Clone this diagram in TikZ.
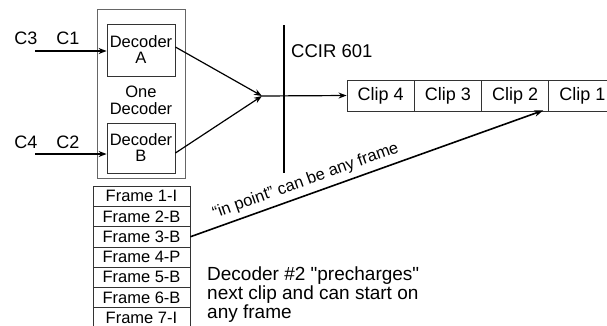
\documentclass[tikz,border=0pt]{standalone}
\usepackage{fontspec}
\setmainfont{Liberation Sans}
\newfontfamily\qfont{Liberation Sans}[Ligatures=ResetAll]
\newcommand{\sq}{{\qfont\symbol{34}}}
\usetikzlibrary{arrows.meta,calc}
\tikzset{
  box/.style={draw=black!80, line width=0.8pt, rectangle, inner sep=0pt, font=\fontsize{16.5}{17}\selectfont},
  outerbox/.style={draw=black!60, line width=0.8pt, rectangle, inner sep=0pt},
  framebox/.style={box, minimum width=97pt, minimum height=20.3pt},
  clipbox/.style={draw=black!80, line width=0.8pt, rectangle, inner sep=0pt, minimum width=67.3pt, minimum height=31pt, font=\fontsize{18}{18}\selectfont},
  lbl/.style={inner sep=0pt, font=\fontsize{18}{18}\selectfont},
  arr/.style={line width=1.2pt, -{Stealth[length=8pt,width=6pt]}},
  ln/.style={line width=1.2pt}
}
\begin{document}
\begin{tikzpicture}[x=1pt,y=-1pt]
\path[use as bounding box, clip] (0,0) rectangle (607,325);
% decoder group
\node[outerbox, minimum width=88pt, minimum height=169pt] (outer) at (141,93.5) {};
\node[box, minimum width=68pt, minimum height=52pt, align=center] (decA) at (141,50) {Decoder\\[-1pt]A};
\node[box, minimum width=68pt, minimum height=50pt, align=center] (decB) at (141,148) {Decoder\\[-1pt]B};
\node[inner sep=0pt, align=center, font=\fontsize{16.5}{17}\selectfont] (one) at (141,100) {One\\Decoder};
% inputs
\node[lbl] (c3) at (26,38) {C3};
\node[lbl] (c1) at (68,38) {C1};
\node[lbl] (c4) at (26,142) {C4};
\node[lbl] (c2) at (68,142) {C2};
\coordinate (inA) at (35,51);
\coordinate (inB) at (35,154);
\draw[arr] (inA) -- (inA -| decA.west);
\draw[arr] (inB) -- (inB -| decB.west);
% merge
\coordinate (m) at (262,96);
\draw[arr] ([yshift=3pt]decA.east) -- (m);
\draw[arr] ([yshift=-5pt]decB.east) -- (m);
% vertical line
\coordinate (vt) at (284,25);
\coordinate (vb) at (284,173);
\draw[ln] (vt) -- (vb);
\node[anchor=west, inner sep=0pt, font=\fontsize{18.5}{19}\selectfont] (ccir) at (291,51) {CCIR 601};
% clips
\node[clipbox] (clip4) at (380.6,95.5) {Clip 4};
\node[clipbox] (clip3) at (447.9,95.5) {Clip 3};
\node[clipbox] (clip2) at (515.2,95.5) {Clip 2};
\node[clipbox] (clip1) at (582.5,95.5) {Clip 1};
\draw[arr] (m) -- (clip4.west);
% frames
\node[framebox] (f1) at (141.5,196.15) {Frame 1-I};
\node[framebox] (f2) at (141.5,216.45) {Frame 2-B};
\node[framebox] (f3) at (141.5,236.75) {Frame 3-B};
\node[framebox] (f4) at (141.5,257.05) {Frame 4-P};
\node[framebox] (f5) at (141.5,277.35) {Frame 5-B};
\node[framebox] (f6) at (141.5,297.65) {Frame 6-B};
\node[framebox] (f7) at (141.5,317.95) {Frame 7-I};
% in point arrow
\draw[line width=1.6pt, -{Stealth[length=9pt,width=6.5pt]}] (f3.east) -- node[pos=0.34, sloped, above=5pt, inner sep=0pt, font=\fontsize{16.5}{17}\selectfont] (inpt) {``in point'' can be any frame} ([xshift=-6pt,yshift=1pt]clip2.south east);
% description
\node[anchor=north west, inner sep=0pt, align=left, font=\fontsize{19}{16.5}\selectfont] (desc) at (207,267) {Decoder \#2 \sq precharges\sq\\next clip and can start on\\any frame};
\end{tikzpicture}
\end{document}
